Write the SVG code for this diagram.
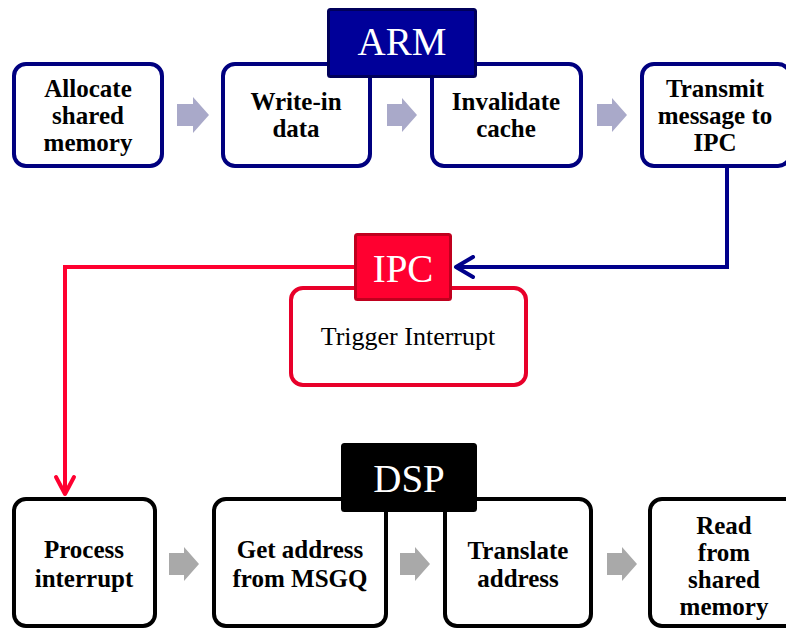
<svg xmlns="http://www.w3.org/2000/svg" width="786" height="630" viewBox="0 0 786 630">
<style>
.armbox{fill:#fff;stroke:#00007f;stroke-width:4}
.dspbox{fill:#fff;stroke:#000;stroke-width:4}
.t{font-family:"Liberation Serif","Times New Roman",serif;font-weight:bold;font-size:25px;fill:#000;text-anchor:middle}
.lbl{font-family:"Liberation Serif","Times New Roman",serif;font-size:39px;fill:#fff;text-anchor:middle}
.tarr{fill:#a9a9c9}
.barr{fill:#a9a9a9}
</style>
<defs>
<marker id="mBlue" markerUnits="userSpaceOnUse" markerWidth="24" markerHeight="24" viewBox="0 0 24 24" refX="20" refY="12" orient="auto">
<path d="M3,2 L20,12 L3,22" fill="none" stroke="#00008b" stroke-width="4" stroke-linecap="round" stroke-linejoin="round"/>
</marker>
<marker id="mRed" markerUnits="userSpaceOnUse" markerWidth="24" markerHeight="24" viewBox="0 0 24 24" refX="20" refY="12" orient="auto">
<path d="M3,3 L20,12 L3,21" fill="none" stroke="#ff0030" stroke-width="4" stroke-linecap="round" stroke-linejoin="round"/>
</marker>
</defs>
<rect width="786" height="630" fill="#fff"/>

<g id="connectors">
<path d="M727,167 V267 H456" fill="none" stroke="#00008b" stroke-width="4" marker-end="url(#mBlue)"/>
<path d="M354,267 H65 V494" fill="none" stroke="#ff0030" stroke-width="4" marker-end="url(#mRed)"/>
<path class="tarr" d="M177,104 H193 V97 L209,115 L193,133 V126 H177 Z"/>
<path class="tarr" d="M387,104 H402 V98 L417,115 L402,132 V126 H387 Z"/>
<path class="tarr" d="M597,104 H612 V98 L627,115 L612,132 V126 H597 Z"/>
<path class="barr" d="M169,553 H184 V547 L199,564 L184,581 V575 H169 Z"/>
<path class="barr" d="M400,553 H415 V547 L430,564 L415,581 V575 H400 Z"/>
<path class="barr" d="M607,553 H622 V547 L637,564 L622,581 V575 H607 Z"/>
</g>

<g id="allocate">
<rect class="armbox" x="14" y="64" width="148" height="102" rx="12"/>
<text class="t" x="88" y="97">Allocate</text>
<text class="t" x="88" y="124">shared</text>
<text class="t" x="88" y="151">memory</text>
</g>
<g id="writein">
<rect class="armbox" x="223" y="64" width="147" height="102" rx="12"/>
<text class="t" x="296" y="110">Write-in</text>
<text class="t" x="296" y="137">data</text>
</g>
<g id="invalidate">
<rect class="armbox" x="432" y="64" width="149" height="102" rx="12"/>
<text class="t" x="506" y="110">Invalidate</text>
<text class="t" x="506" y="137">cache</text>
</g>
<g id="transmit">
<rect class="armbox" x="642" y="64" width="148" height="102" rx="12"/>
<text class="t" x="715" y="97">Transmit</text>
<text class="t" x="715" y="124">message to</text>
<text class="t" x="715" y="151">IPC</text>
</g>
<g id="arm">
<rect x="328.5" y="9.5" width="147" height="67" rx="2" fill="#000099" stroke="#00005a" stroke-width="3"/>
<text class="lbl" x="402" y="55">ARM</text>
</g>

<g id="trigger">
<rect x="291" y="288" width="235" height="97" rx="12" fill="#fff" stroke="#e8002a" stroke-width="4"/>
<text x="408" y="345" font-family="Liberation Serif, Times New Roman, serif" font-size="26" fill="#000" text-anchor="middle">Trigger Interrupt</text>
</g>
<g id="ipc">
<rect x="355.5" y="234.5" width="95" height="65" rx="2" fill="#ff0030" stroke="#c0001e" stroke-width="3"/>
<text class="lbl" x="403" y="282">IPC</text>
</g>

<g id="process">
<rect class="dspbox" x="14" y="499" width="141" height="127" rx="12"/>
<text class="t" x="84" y="558">Process</text>
<text class="t" x="84" y="587">interrupt</text>
</g>
<g id="getaddr">
<rect class="dspbox" x="214" y="499" width="172" height="127" rx="12"/>
<text class="t" x="300" y="558">Get address</text>
<text class="t" x="300" y="587">from MSGQ</text>
</g>
<g id="translate">
<rect class="dspbox" x="445" y="499" width="146" height="127" rx="12"/>
<text class="t" x="518" y="559">Translate</text>
<text class="t" x="518" y="587">address</text>
</g>
<g id="read">
<rect class="dspbox" x="650" y="499" width="150" height="127" rx="12"/>
<text class="t" x="724" y="534">Read</text>
<text class="t" x="724" y="561">from</text>
<text class="t" x="724" y="588">shared</text>
<text class="t" x="724" y="615">memory</text>
</g>
<g id="dsp">
<rect x="342.5" y="444.5" width="133" height="66" rx="2" fill="#000" stroke="#000" stroke-width="3"/>
<text class="lbl" x="409" y="492">DSP</text>
</g>
</svg>
